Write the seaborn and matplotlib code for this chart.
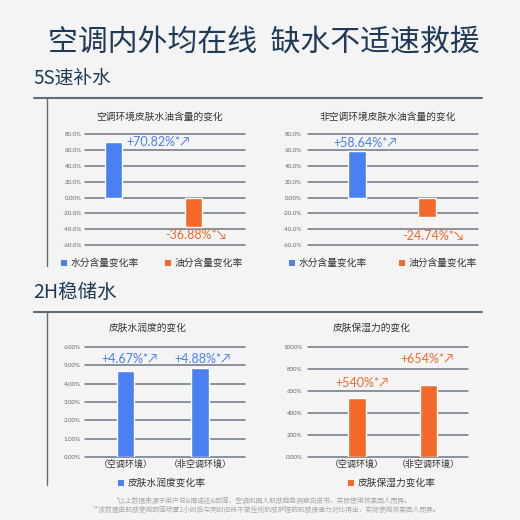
import matplotlib
matplotlib.use('Agg')
import matplotlib.pyplot as plt
import seaborn as sns
import pandas as pd
from matplotlib.patches import Rectangle
from matplotlib.lines import Line2D

sns.set_theme(style='white')
plt.rcParams['font.family'] = ['Noto Sans CJK SC', 'DejaVu Sans']

# ---------------- data ----------------
main_title = '空调内外均在线  缺水不适速救援'
section1_title = '5S速补水'
section2_title = '2H稳储水'

top_categories = ['水分含量变化率', '油分含量变化率']
ac_title = '空调环境皮肤水油含量的变化'
ac_change = [70.82, -36.88]
nonac_title = '非空调环境皮肤水油含量的变化'
nonac_change = [58.64, -24.74]
top_ticks = [80, 60, 40, 20, 0, -20, -40, -60]
top_tick_labels = ['80.0%', '60.0%', '40.0%', '20.0%', '0.00%', '-20.0%', '-40.0%', '-60.0%']

env_categories = ['（空调环境）', '（非空调环境）']
moisture_title = '皮肤水润度的变化'
moisture_legend = '皮肤水润度变化率'
moisture_change = [4.67, 4.88]
moisture_ticks = [0, 1, 2, 3, 4, 5, 6]
moisture_tick_labels = ['0.00%', '1.00%', '2.00%', '3.00%', '4.00%', '5.00%', '6.00%']

retention_title = '皮肤保湿力的变化'
retention_legend = '皮肤保湿力变化率'
retention_change = [540, 654]
retention_ticks = [0, 200, 400, 600, 800, 1000]
retention_tick_labels = ['0.00%', '200%', '400%', '600%', '800%', '1000%']

footnotes = ['*以上数据来源于用户说&福瑞达&颐莲，空调肌国人肌肤趋势洞察白皮书，实际使用效果因人而异。',
             '**该数据由肌肤使用颐莲喷雾2小时后与同时间段不做任何肌肤护理的肌肤保湿力对比得出，实际使用效果因人而异。']

# ---------------- style ----------------
BG = '#f4f4f4'
NAVY = '#1f3a56'
BLUE = '#4a80f2'
ORANGE = '#f56a2a'
GRID = '#6a7684'
LINE = '#5e6b79'
NUMFONT = ['Lato', 'DejaVu Sans']
UP, DOWN = '\u2197', '\u2198'

W = H = 520
fig = plt.figure(figsize=(W / 100, H / 100), dpi=100, facecolor=BG)


def px_axes(x0, y0, x1, y1):
    return fig.add_axes([x0 / W, 1 - y1 / H, (x1 - x0) / W, (y1 - y0) / H])


def fx(x):
    return x / W


def fy(y):
    return 1 - y / H


def draw_chart(ax, cats, vals, colors, ticks, ticklabels, ylim, xlim, width, pad):
    df = pd.DataFrame({'cat': cats, 'val': vals})
    sns.barplot(data=df, x='cat', y='val', hue='cat', order=cats, hue_order=cats,
                palette=colors, width=width, saturation=1, legend=False, ax=ax)
    ax.set_facecolor('none')
    ax.set_ylim(*ylim)
    ax.set_xlim(*xlim)
    ax.set_yticks(ticks)
    ax.set_yticklabels(ticklabels, fontsize=4.4, color='#666666', family=NUMFONT)
    ax.tick_params(axis='y', length=0, pad=pad)
    ax.yaxis.grid(True, color=GRID, lw=1.1)
    ax.set_axisbelow(True)
    for gl in ax.get_ygridlines():
        gl.set_clip_on(False)
    for s in ax.spines.values():
        s.set_visible(False)
    ax.set_xlabel('')
    ax.set_ylabel('')


def annot(ax, x, y, text, color, dx, dy, ha='center'):
    # dx, dy in pixels, dy positive = downward
    ax.annotate(text, xy=(x, y), xytext=(dx * 0.72, -dy * 0.72), textcoords='offset points',
                ha=ha, va='center', fontsize=9, color=color, family=NUMFONT,
                annotation_clip=False)


def legend_item(x, y, text, color):
    fig.add_artist(Rectangle((fx(x - 3), fy(y + 3)), 6 / W, 6 / H, transform=fig.transFigure,
                             color=color, lw=0))
    fig.text(fx(x + 7), fy(y), text, fontsize=7, color='#333333', ha='left', va='center')


# ---------------- headings & frame ----------------
fig.text(fx(264), fy(42), main_title, fontsize=21.5, color=NAVY, ha='center', va='center',
         weight='medium')
fig.text(fx(33), fy(78), section1_title, fontsize=13.5, color=NAVY, ha='left', va='center')
fig.text(fx(33), fy(292), section2_title, fontsize=14, color=NAVY, ha='left', va='center')
for yy, y_end in [(98, 266), (312, 485)]:
    fig.add_artist(Line2D([fx(34), fx(482)], [fy(yy), fy(yy)], color=LINE, lw=1.5))
    fig.add_artist(Line2D([fx(46.5), fx(46.5)], [fy(yy), fy(y_end)], color=LINE, lw=1.0))

# ---------------- chart 1 ----------------
ax1 = px_axes(85, 134.3, 245, 245)
draw_chart(ax1, top_categories, ac_change, [BLUE, ORANGE], top_ticks, top_tick_labels,
           (-60, 80), (-0.346, 1.63), 0.21, 2.5)
ax1.set_xticks([])
fig.text(fx(160), fy(117), ac_title, fontsize=7, color='#333333', ha='center', va='center')
annot(ax1, 0.105, ac_change[0], f'{ac_change[0]:+.2f}%*' + UP, BLUE, 5, 0, ha='left')
annot(ax1, 1.02, ac_change[1], f'{ac_change[1]:.2f}%*' + DOWN, ORANGE, 0, 8)
legend_item(64, 263, top_categories[0], BLUE)
legend_item(168, 263, top_categories[1], ORANGE)

# ---------------- chart 2 ----------------
ax2 = px_axes(308, 134.3, 478, 245)
draw_chart(ax2, top_categories, nonac_change, [BLUE, ORANGE], top_ticks, top_tick_labels,
           (-60, 80), (-0.7, 1.73), 0.26, 4.5)
ax2.set_xticks([])
fig.text(fx(388), fy(117), nonac_title, fontsize=7, color='#333333', ha='center', va='center')
annot(ax2, 0.12, nonac_change[0], f'{nonac_change[0]:+.2f}%*' + UP, BLUE, 0, -8)
annot(ax2, 1.08, nonac_change[1], f'{nonac_change[1]:.2f}%*' + DOWN, ORANGE, 0, 19)
legend_item(292, 263, top_categories[0], BLUE)
legend_item(402, 263, top_categories[1], ORANGE)

# ---------------- chart 3 ----------------
ax3 = px_axes(85, 347, 245, 457)
draw_chart(ax3, env_categories, moisture_change, [BLUE, BLUE], moisture_ticks,
           moisture_tick_labels, (0, 6), (-0.544, 1.604), 0.23, 3)
ax3.tick_params(axis='x', length=0, pad=2)
for t in ax3.get_xticklabels():
    t.set_fontsize(6.5)
    t.set_color('#333333')
fig.text(fx(148), fy(328), moisture_title, fontsize=7, color='#333333', ha='center', va='center')
annot(ax3, 0.06, moisture_change[0], f'{moisture_change[0]:+.2f}%*' + UP, BLUE, 0, -12.5)
annot(ax3, 1.03, moisture_change[1], f'{moisture_change[1]:+.2f}%*' + UP, BLUE, 0, -8.5)
legend_item(121, 483, moisture_legend, BLUE)

# ---------------- chart 4 ----------------
ax4 = px_axes(308, 347, 468, 457)
draw_chart(ax4, env_categories, retention_change, [ORANGE, ORANGE], retention_ticks,
           retention_tick_labels, (0, 1000), (-0.685, 1.552), 0.245, 4)
ax4.tick_params(axis='x', length=0, pad=2)
for t in ax4.get_xticklabels():
    t.set_fontsize(6.5)
    t.set_color('#333333')
fig.text(fx(372), fy(328), retention_title, fontsize=7, color='#333333', ha='center', va='center')
annot(ax4, 0.07, retention_change[0], f'+{retention_change[0]:.0f}%*' + UP, ORANGE, 0, -15)
annot(ax4, 0.98, retention_change[1], f'+{retention_change[1]:.0f}%*' + UP, ORANGE, 0, -26)
legend_item(351, 483, retention_legend, ORANGE)

# ---------------- footnotes ----------------
fig.text(fx(264), fy(501), footnotes[0], fontsize=4.9, color='#a8a8a8', ha='center', va='center')
fig.text(fx(266), fy(509.5), footnotes[1], fontsize=4.9, color='#a8a8a8', ha='center', va='center')

fig.savefig('out.png', dpi=100, facecolor=BG)
